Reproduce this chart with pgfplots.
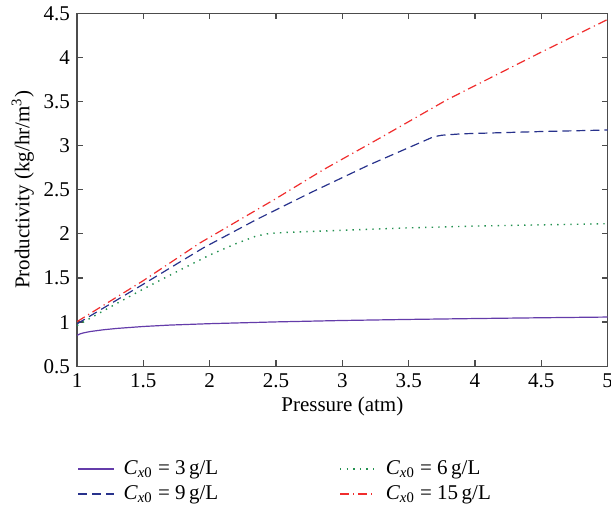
\documentclass[border=0pt]{standalone}
\usepackage{fontspec}
\setmainfont{Liberation Serif}
\usepackage{pgfplots}
\pgfplotsset{compat=1.18}
\definecolor{cpurple}{RGB}{100,60,170}
\definecolor{cblue}{RGB}{40,50,140}
\definecolor{cgreen}{RGB}{35,145,80}
\definecolor{cred}{RGB}{240,45,45}
\begin{document}
\begin{tikzpicture}
\begin{axis}[
  scale only axis,
  width=265.15pt, height=176.35pt,
  xmin=1, xmax=5, ymin=0.5, ymax=4.5,
  xtick={1,1.5,...,5}, ytick={0.5,1,...,4.5},
  tick align=inside,
  major tick length=3pt,
  axis line style={black!70, line width=0.6pt},
  every tick/.style={black!70, line width=0.6pt},
  /pgf/number format/assume math mode=true,
  ticklabel style={font=\fontsize{10.5}{12}\selectfont},
  label style={font=\fontsize{10.5}{12}\selectfont},
  xlabel={Pressure (atm)},
  ylabel={Productivity (kg/hr/m\textsuperscript{3})},
  xlabel style={yshift=2pt},
  ylabel style={yshift=-2pt},
  legend columns=2,
  legend cell align=left,
  legend style={draw=none, at={(0,0)}, anchor=north west, yshift=-45pt,
    inner sep=0pt, row sep=0pt,
    font=\fontsize{10.5}{12}\selectfont,
    /tikz/every odd column/.append style={column sep=2.5pt},
    /tikz/every even column/.append style={column sep=58.5pt}},
  legend image code/.code={\draw[#1] (0pt,0pt) -- (18pt,0pt);},
]
\addplot[cpurple, line width=0.6pt] coordinates {
(1.00,0.850) (1.02,0.865) (1.05,0.878) (1.10,0.893) (1.20,0.913) (1.30,0.928)
(1.50,0.950) (1.70,0.966) (2.00,0.982) (2.50,1.002) (3.00,1.018) (3.50,1.030)
(4.00,1.040) (4.50,1.049) (5.00,1.057)};
\addlegendentry{\textit{C}\textsubscript{\textit{x}0} = 3\,g/L}
\addplot[cgreen, line width=0.7pt, dash pattern=on 0.7pt off 2.6pt] coordinates {
(1.00,0.960) (1.25,1.170) (1.50,1.375) (1.75,1.570) (2.00,1.760) (2.20,1.890)
(2.35,1.975) (2.45,2.005) (2.60,2.018) (3.00,2.040) (3.50,2.068) (4.00,2.088)
(4.50,2.102) (5.00,2.115)};
\addlegendentry{\textit{C}\textsubscript{\textit{x}0} = 6\,g/L}
\addplot[cblue, line width=0.6pt, dash pattern=on 4.5pt off 2.5pt] coordinates {
(1.00,0.980) (1.50,1.430) (1.953,1.842) (2.35,2.160) (2.757,2.464) (3.20,2.780)
(3.637,3.067) (3.687,3.100) (3.75,3.118) (3.90,3.134) (4.50,3.160) (5.00,3.177)};
\addlegendentry{\textit{C}\textsubscript{\textit{x}0} = 9\,g/L}
\addplot[cred, line width=0.6pt, dash pattern=on 4.5pt off 2pt on 0.6pt off 2pt] coordinates {
(1.00,1.005) (1.50,1.470) (1.928,1.898) (2.50,2.400) (2.857,2.727) (3.30,3.100)
(3.788,3.519) (4.00,3.680) (4.50,4.060) (5.00,4.430)};
\addlegendentry{\textit{C}\textsubscript{\textit{x}0} = 15\,g/L}
\end{axis}
\pgfresetboundingbox
\path[use as bounding box] (-38.5pt,-69.5pt) rectangle (266.85pt,183.0pt);
\end{tikzpicture}
\end{document}
